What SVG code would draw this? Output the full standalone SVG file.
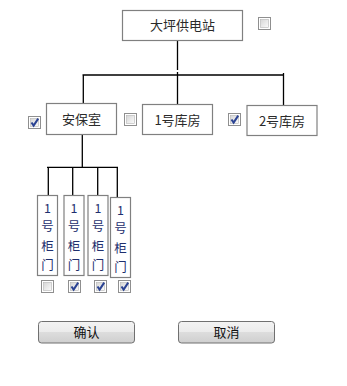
<svg xmlns="http://www.w3.org/2000/svg" width="347" height="386" viewBox="0 0 347 386">
<defs>
<linearGradient id="cbg" x1="0" y1="0" x2="1" y2="1">
<stop offset="0" stop-color="#d6d6d6"/>
<stop offset="1" stop-color="#fbfbfb"/>
</linearGradient>
<linearGradient id="btng" x1="0" y1="0" x2="0" y2="1">
<stop offset="0" stop-color="#f3f3f3"/>
<stop offset="0.5" stop-color="#ebebeb"/>
<stop offset="0.5" stop-color="#dddddd"/>
<stop offset="1" stop-color="#cfcfcf"/>
</linearGradient>
<g id="cb">
<rect x="0.5" y="0.5" width="12" height="12" fill="#fff" stroke="#8f8f8f"/>
<rect x="2.5" y="2.5" width="8" height="8" fill="url(#cbg)" stroke="#b4b4b4" stroke-width="0.6"/>
</g>
<g id="cbc">
<use href="#cb"/>
<path d="M3.5 6.5 L5.6 9.6 L10.2 2.6" fill="none" stroke="#2b4393" stroke-width="2"/>
</g>
</defs>
<style>
.node{fill:#fff;stroke:#808080;stroke-width:1.2}
.lbl{font-family:"Noto Sans CJK SC","Microsoft YaHei",sans-serif;font-size:13px;fill:#2a2a2a;text-anchor:middle}
.sm{font-family:"Noto Sans CJK SC","Microsoft YaHei",sans-serif;font-size:12.5px;fill:#1e2f6e;text-anchor:middle}
.con{stroke:#000;stroke-width:1.3;fill:none}
.btn{fill:url(#btng);stroke:#707070;stroke-width:1}
.bt{font-family:"Noto Sans CJK SC","Microsoft YaHei",sans-serif;font-size:13px;fill:#111;text-anchor:middle}
</style>
<rect width="347" height="386" fill="#fff"/>
<g id="connectors">
<path class="con" d="M177.5 40.5 V70 M177.5 72 V104.5 M82.5 75 H284 M83.3 75 V103.5 M283.5 73 V105.5"/>
<path class="con" d="M82.3 134.5 V167.3 M47 167.3 H118 M48.3 167.3 V195.5 M72.7 167.3 V195.5 M97.7 167.3 V195.5 M117.3 167.3 V197.5"/>
</g>
<g id="node-top">
<rect class="node" x="122.5" y="10.5" width="120" height="30"/>
<text class="lbl" x="182.5" y="30">大坪供电站</text>
<use href="#cb" x="258" y="17"/>
</g>
<g id="node-anbao">
<rect class="node" x="46.5" y="103.5" width="70" height="31"/>
<text class="lbl" x="81.5" y="124">安保室</text>
<use href="#cbc" x="28" y="116"/>
</g>
<g id="node-ku1">
<rect class="node" x="142.5" y="104.5" width="70" height="30"/>
<text class="lbl" x="177.5" y="124.5">1号库房</text>
<use href="#cb" x="124" y="113"/>
</g>
<g id="node-ku2">
<rect class="node" x="247" y="105.5" width="70" height="30"/>
<text class="lbl" x="282" y="125.5">2号库房</text>
<use href="#cbc" x="228" y="113"/>
</g>
<g id="node-gui1">
<rect class="node" x="37.5" y="195.5" width="20" height="80"/>
<text class="sm" x="47.5" y="213">1</text><text class="sm" x="47.5" y="231">号</text><text class="sm" x="47.5" y="251">柜</text><text class="sm" x="47.5" y="270">门</text>
<use href="#cb" x="41" y="280"/>
</g>
<g id="node-gui2">
<rect class="node" x="64" y="195.5" width="20" height="80"/>
<text class="sm" x="74" y="213">1</text><text class="sm" x="74" y="231">号</text><text class="sm" x="74" y="251">柜</text><text class="sm" x="74" y="270">门</text>
<use href="#cbc" x="68" y="280"/>
</g>
<g id="node-gui3">
<rect class="node" x="88" y="195.5" width="20" height="80"/>
<text class="sm" x="98" y="213">1</text><text class="sm" x="98" y="231">号</text><text class="sm" x="98" y="251">柜</text><text class="sm" x="98" y="270">门</text>
<use href="#cbc" x="94" y="280"/>
</g>
<g id="node-gui4">
<rect class="node" x="110.5" y="197.5" width="20" height="80"/>
<text class="sm" x="120.5" y="215">1</text><text class="sm" x="120.5" y="233">号</text><text class="sm" x="120.5" y="253">柜</text><text class="sm" x="120.5" y="272">门</text>
<use href="#cbc" x="118" y="280"/>
</g>
<g id="btn-ok">
<rect class="btn" x="38.5" y="321.5" width="96" height="21.5" rx="3"/>
<text class="bt" x="86.5" y="337">确认</text>
</g>
<g id="btn-cancel">
<rect class="btn" x="178.5" y="321.5" width="96" height="21.5" rx="3"/>
<text class="bt" x="226.5" y="337">取消</text>
</g>
</svg>
